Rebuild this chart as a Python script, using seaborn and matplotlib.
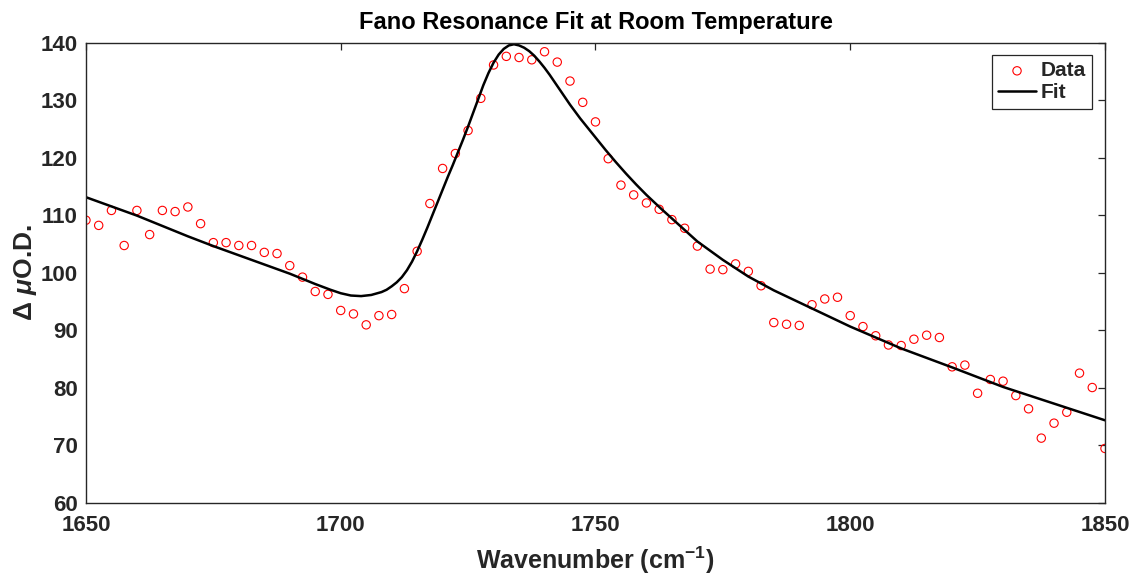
import matplotlib
matplotlib.use("Agg")
import matplotlib.pyplot as plt
import seaborn as sns
import numpy as np
import pandas as pd

# Olcum noktalari (2.5 cm-1 aralikla)
wavenumber = np.arange(1650, 1850.1, 2.5)
delta_od = [
    109.1, 108.2, 110.8, 104.7, 110.8, 106.6, 110.8, 110.6, 111.4, 108.5,
    105.2, 105.2, 104.7, 104.7, 103.5, 103.3, 101.2, 99.2, 96.7, 96.2,
    93.4, 92.8, 90.9, 92.5, 92.7, 97.2, 103.7, 112.0, 118.1, 120.7,
    124.7, 130.3, 136.1, 137.6, 137.4, 137.0, 138.4, 136.6, 133.3, 129.6,
    126.2, 119.8, 115.2, 113.5, 112.1, 111.0, 109.2, 107.7, 104.6, 100.6,
    100.5, 101.5, 100.2, 97.7, 91.3, 91.0, 90.8, 94.4, 95.4, 95.7,
    92.5, 90.6, 89.0, 87.4, 87.3, 88.4, 89.1, 88.7, 83.6, 83.9,
    79.0, 81.4, 81.1, 78.6, 76.3, 71.2, 73.8, 75.7, 82.5, 80.0,
    69.4,
]

# Fano fit egrisi (resimden okunan noktalar)
fit_x = [1650, 1655, 1660, 1665, 1670, 1675, 1680, 1685, 1690, 1695,
         1698, 1700, 1702, 1704, 1706, 1708, 1709, 1710, 1711, 1712,
         1713, 1714, 1715, 1716, 1717, 1718, 1719, 1720, 1721, 1722,
         1723, 1724, 1725, 1726, 1727, 1728, 1729, 1730, 1731, 1732,
         1733, 1734, 1735, 1736, 1737, 1738, 1739, 1740, 1741, 1742,
         1743, 1744, 1745, 1746, 1747, 1748, 1749, 1750, 1752, 1754,
         1756, 1758, 1760, 1763, 1766, 1770, 1775, 1780, 1785, 1790,
         1795, 1800, 1810, 1820, 1830, 1840, 1850]
fit_y = [113.1, 111.5, 109.9, 108.1, 106.3, 104.6, 103.0, 101.4, 99.8, 98.0,
         97.0, 96.4, 96.0, 95.9, 96.1, 96.6, 97.0, 97.6, 98.3, 99.2,
         100.4, 101.9, 103.7, 105.7, 107.8, 110.0, 112.2, 114.4, 116.6, 118.7,
         120.9, 123.1, 125.4, 127.8, 130.2, 132.6, 134.7, 136.5, 137.9, 138.9,
         139.5, 139.7, 139.5, 139.1, 138.5, 137.7, 136.7, 135.6, 134.4, 133.1,
         131.8, 130.5, 129.2, 128.0, 126.8, 125.7, 124.6, 123.5, 121.3, 119.2,
         117.2, 115.3, 113.5, 111.0, 108.6, 105.4, 102.2, 99.3, 96.9, 94.8,
         92.7, 90.6, 86.8, 83.5, 80.1, 77.2, 74.3]

data_df = pd.DataFrame({"x": wavenumber, "y": delta_od})
fit_df = pd.DataFrame({"x": fit_x, "y": fit_y})

sns.set_theme(style="white")
plt.rcParams["font.family"] = ["Liberation Sans", "DejaVu Sans"]
plt.rcParams["mathtext.fontset"] = "custom"
plt.rcParams["mathtext.rm"] = "Liberation Sans:bold"
plt.rcParams["mathtext.it"] = "Liberation Sans:italic:bold"
plt.rcParams["mathtext.bf"] = "Liberation Sans:bold"

text_col = "#262626"

fig = plt.figure(figsize=(11.31, 5.78), dpi=100)
ax = fig.add_axes([0.076, 0.1306, 0.901, 0.7958])

sns.scatterplot(data=data_df, x="x", y="y", ax=ax, marker="o", s=36,
                facecolor="none", edgecolor="red", linewidth=0.8, label="Data")
sns.lineplot(data=fit_df, x="x", y="y", ax=ax, color="black", linewidth=1.8,
             sort=False, estimator=None, label="Fit")

ax.set_xlim(1650, 1850)
ax.set_ylim(60, 140)
ax.set_xticks([1650, 1700, 1750, 1800, 1850])
ax.set_yticks(range(60, 141, 10))

ax.tick_params(direction="in", length=5, width=0.9, top=True, right=True,
               labelsize=16, colors=text_col)
ax.tick_params(axis="x", pad=9)
ax.tick_params(axis="y", pad=6)
for lbl in ax.get_xticklabels() + ax.get_yticklabels():
    lbl.set_fontweight("bold")
for sp in ax.spines.values():
    sp.set_color(text_col)
    sp.set_linewidth(1.0)

ax.set_title("Fano Resonance Fit at Room Temperature", fontsize=17,
             fontweight="bold", color="black", pad=10)
ax.set_xlabel("Wavenumber (cm$^{-1}$)", fontsize=18, fontweight="bold",
              color=text_col, labelpad=6)
ax.set_ylabel(r"$\Delta\ \mu$O.D.", fontsize=19, fontweight="bold",
              color=text_col, labelpad=1)

leg = ax.legend(loc="upper right", frameon=True, fancybox=False,
                framealpha=1, edgecolor=text_col, borderaxespad=0.6,
                handlelength=1.8, handletextpad=0.25, borderpad=0.3,
                labelspacing=0.15, prop={"weight": "bold", "size": 15})
leg.get_frame().set_linewidth(0.9)

fig.savefig("out.png", dpi=100)
plt.close(fig)
